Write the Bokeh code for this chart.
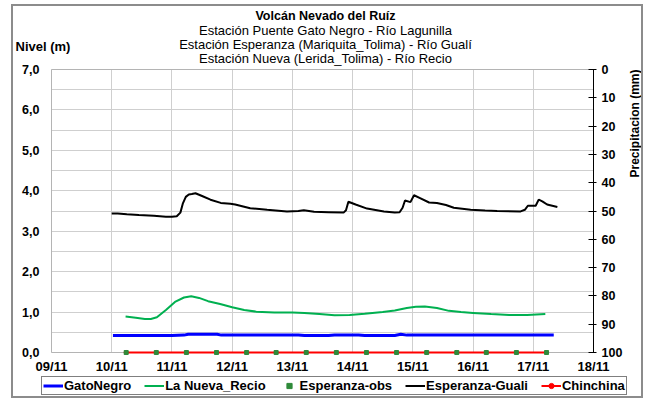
import math
from bokeh.plotting import figure
from bokeh.models import (Range1d, LinearAxis, FixedTicker, CustomJSTickFormatter,
                          Legend, LegendItem, Label, BoxAnnotation)
from bokeh.embed import file_html
from bokeh.resources import INLINE

# ---------------- data (day of November, level in m) ----------------
gato_day = [10.02, 10.50, 11.00, 11.20, 11.27, 11.50, 11.75, 11.82, 12.50, 13.10,
            13.20, 13.60, 13.70, 14.10, 14.20, 14.70, 14.80, 14.90, 15.50, 16.50, 17.34]
gato_lvl = [0.42, 0.42, 0.42, 0.43, 0.45, 0.45, 0.45, 0.43, 0.43, 0.43,
            0.42, 0.42, 0.43, 0.43, 0.42, 0.42, 0.45, 0.43, 0.43, 0.43, 0.43]

nueva_day = [10.23, 10.40, 10.55, 10.65, 10.75, 10.90, 11.05, 11.20, 11.32, 11.45,
             11.60, 11.80, 12.00, 12.20, 12.40, 12.70, 13.00, 13.20, 13.45, 13.70,
             13.95, 14.20, 14.50, 14.70, 14.90, 15.05, 15.20, 15.40, 15.60, 15.80,
             16.00, 16.30, 16.60, 16.90, 17.20]
nueva_lvl = [0.89, 0.86, 0.83, 0.83, 0.87, 1.05, 1.25, 1.36, 1.39, 1.35,
             1.27, 1.20, 1.12, 1.05, 1.01, 0.99, 0.99, 0.98, 0.95, 0.92,
             0.93, 0.96, 1.00, 1.04, 1.10, 1.13, 1.14, 1.10, 1.03, 1.00,
             0.98, 0.95, 0.93, 0.93, 0.95]

guali_day = [10.00, 10.10, 10.25, 10.45, 10.70, 10.90, 11.00, 11.08, 11.14, 11.18,
             11.23, 11.28, 11.33, 11.39, 11.50, 11.64, 11.81, 11.97, 12.05, 12.30,
             12.58, 12.91, 13.10, 13.19, 13.36, 13.60, 13.85, 13.89, 13.93, 14.05,
             14.24, 14.52, 14.70, 14.78, 14.83, 14.87, 14.96, 15.02, 15.12, 15.27,
             15.40, 15.55, 15.68, 15.96, 16.20, 16.40, 16.79, 16.86, 16.91, 17.04,
             17.09, 17.15, 17.23, 17.40]
guali_lvl = [3.44, 3.44, 3.42, 3.40, 3.38, 3.36, 3.36, 3.37, 3.46, 3.68,
             3.85, 3.91, 3.92, 3.94, 3.87, 3.78, 3.70, 3.68, 3.66, 3.57,
             3.53, 3.49, 3.50, 3.52, 3.48, 3.47, 3.46, 3.52, 3.73, 3.66,
             3.56, 3.49, 3.46, 3.47, 3.58, 3.76, 3.72, 3.89, 3.82, 3.71,
             3.70, 3.65, 3.58, 3.53, 3.51, 3.50, 3.49, 3.53, 3.63, 3.63,
             3.78, 3.74, 3.66, 3.60]

obs_day = [10.24, 10.74, 11.24, 11.74, 12.24, 12.73, 13.23, 13.73, 14.23, 14.73,
           15.23, 15.73, 16.22, 16.72, 17.22]
obs_lvl = [0, 0, 0, 0, 0, 0, 0, 0, 0, 0, 0, 0, 0, 0, 0]

chin_day = [10.24, 10.74, 11.24, 11.74, 12.24, 12.73, 13.23, 13.73, 14.23, 14.73,
            15.23, 15.73, 16.22, 16.72, 17.22]
chin_lvl = [0, 0, 0, 0, 0, 0, 0, 0, 0, 0, 0, 0, 0, 0, 0]

x_ticks = [9, 10, 11, 12, 13, 14, 15, 16, 17, 18]
y_ticks = [0, 1, 2, 3, 4, 5, 6, 7]
y_grid = [0, 0.5, 1, 1.5, 2, 2.5, 3, 3.5, 4, 4.5, 5, 5.5, 6, 6.5, 7]
precip_ticks = [0, 10, 20, 30, 40, 50, 60, 70, 80, 90, 100]

title_main = "Volcán Nevado del Ruíz"
title_subs = ["Estación Puente Gato Negro - Río Lagunilla",
              "Estación Esperanza (Mariquita_Tolima) - Río Gualí",
              "Estación Nueva (Lerida_Tolima) - Río Recio"]
y_label = "Nivel (m)"
y2_label = "Precipitacion (mm)"

FONT = "Liberation Sans"

# plot area spans days 9..18 and levels 0..7; the ranges are widened so that
# titles, legend and axis labels sit inside the drawing frame
X0, X1 = 9, 18
Y0, Y1 = 0, 7
P0, P1 = 100, 0          # precipitation at Y0 and at Y1 (inverted axis)
px_per_day = 542 / (X1 - X0)
px_per_m = 283 / (Y1 - Y0)
xr = Range1d(X0 - 38 / px_per_day, X1 + 52 / px_per_day)
yr = Range1d(Y0 - 48 / px_per_m, Y1 + 63 / px_per_m)
mm_per_m = (P0 - P1) / (Y1 - Y0)

p = figure(width=632, height=394, x_range=xr, y_range=yr,
           output_backend="svg", toolbar_location=None, title=None, min_border=0)
p.styles = {"border": "2px solid #8c8c8c", "margin-left": "11px", "margin-top": "4px"}
p.background_fill_color = "white"
p.border_fill_color = "white"
p.outline_line_color = None

# grids
p.xgrid.ticker = FixedTicker(ticks=x_ticks)
p.ygrid.ticker = FixedTicker(ticks=y_grid)
p.xgrid.grid_line_color = "#cfcfcf"
p.ygrid.grid_line_color = "#cfcfcf"
for g, cb in ((p.xgrid[0], (Y0, Y1)), (p.ygrid[0], (X0, X1))):
    if "cross_bounds" in g.properties():
        g.cross_bounds = cb
# white masks outside the plot area (cover grid lines), then the plot-area border
for kw in (dict(right=X0), dict(left=X1), dict(top=Y0), dict(bottom=Y1)):
    p.add_layout(BoxAnnotation(fill_color="white", fill_alpha=1.0, line_color=None,
                               level="underlay", **kw))
p.add_layout(BoxAnnotation(left=X0, right=X1, bottom=Y0, top=Y1, fill_color=None,
                           line_color="#404040", line_width=1, level="underlay"))

# x axis
xa = p.xaxis[0]
xa.fixed_location = Y0
xa.bounds = (X0, X1)
xa.ticker = FixedTicker(ticks=x_ticks)
xa.formatter = CustomJSTickFormatter(code="return (tick < 10 ? '0' : '') + tick + '/11';")
xa.major_tick_out = 0
xa.major_tick_in = 0
xa.minor_tick_line_color = None
xa.axis_line_color = None
xa.major_label_standoff = 6
xa.major_label_text_font = FONT
xa.major_label_text_font_size = "13px"
xa.major_label_text_font_style = "bold"
xa.major_label_text_color = "black"

# left axis
ya = p.yaxis[0]
ya.fixed_location = X0
ya.bounds = (Y0, Y1)
ya.ticker = FixedTicker(ticks=y_ticks)
ya.formatter = CustomJSTickFormatter(code="return tick.toFixed(1).replace('.', ',');")
ya.major_tick_out = 0
ya.major_tick_in = 0
ya.minor_tick_line_color = None
ya.axis_line_color = None
ya.major_label_standoff = 12
ya.major_label_text_font = FONT
ya.major_label_text_font_size = "12.5px"
ya.major_label_text_font_style = "bold"
ya.major_label_text_color = "black"

# right axis (precipitation, inverted)
p.extra_y_ranges = {"precip": Range1d(P0 + (Y0 - yr.start) * mm_per_m,
                                      P1 - (yr.end - Y1) * mm_per_m)}
ax2 = LinearAxis(y_range_name="precip", ticker=FixedTicker(ticks=precip_ticks),
                 fixed_location=X1, bounds=(P1, P0))
ax2.major_tick_in = 5
ax2.major_tick_out = 3
ax2.minor_tick_line_color = None
ax2.axis_line_color = "black"
ax2.major_tick_line_color = "black"
ax2.major_label_standoff = 5
ax2.major_label_text_font = FONT
ax2.major_label_text_font_size = "12.5px"
ax2.major_label_text_font_style = "bold"
ax2.major_label_text_color = "black"
p.add_layout(ax2, "right")

# series
r_gato = p.line(gato_day, gato_lvl, line_color="#0000ff", line_width=3)
r_nueva = p.line(nueva_day, nueva_lvl, line_color="#00b050", line_width=2)
r_guali = p.line(guali_day, guali_lvl, line_color="black", line_width=2)
r_chin = p.line(chin_day, chin_lvl, line_color="#ff0000", line_width=2)
r_chin_m = p.scatter(chin_day, chin_lvl, marker="circle", size=4,
                     fill_color="#ff0000", line_color="#ff0000")
r_obs = p.scatter(obs_day, obs_lvl, marker="square", size=4,
                  fill_color="#2f8a3a", line_color="#2f8a3a")

legend = Legend(items=[
    LegendItem(label="GatoNegro", renderers=[r_gato]),
    LegendItem(label="La Nueva_Recio", renderers=[r_nueva]),
    LegendItem(label="Esperanza-obs", renderers=[r_obs]),
    LegendItem(label="Esperanza-Guali", renderers=[r_guali]),
    LegendItem(label="Chinchina", renderers=[r_chin, r_chin_m]),
], location=(28, 5), orientation="horizontal")
legend.label_text_font = FONT
legend.label_text_font_size = "13px"
legend.label_text_font_style = "bold"
legend.label_text_color = "black"
legend.glyph_width = 20
legend.glyph_height = 13
legend.label_height = 13
legend.label_standoff = 1
legend.spacing = 13
legend.padding = 1
legend.margin = 0
legend.border_line_color = "black"
legend.border_line_width = 1
legend.background_fill_color = "white"
legend.background_fill_alpha = 1.0
p.add_layout(legend)

# titles and axis captions
def txt(x, y, text, size, style="normal", align="center", angle=0.0):
    p.add_layout(Label(x=x, y=y, text=text, text_align=align, text_baseline="middle",
                       text_font=FONT, text_font_size=size, text_font_style=style,
                       text_color="black", angle=angle))

cx = X0 + 274 / px_per_day
txt(cx, Y1 + 54 / px_per_m, title_main, "12.5px", "bold")
txt(cx, Y1 + 39.5 / px_per_m, title_subs[0], "13px")
txt(cx, Y1 + 25.5 / px_per_m, title_subs[1], "13px")
txt(cx, Y1 + 11.5 / px_per_m, title_subs[2], "13px")
txt(X0 - 36 / px_per_day, Y1 + 23 / px_per_m, y_label, "13px", "bold", align="left")
txt(X1 + 41 / px_per_day, Y1 - 54 / px_per_m, y2_label, "12px", "bold", angle=math.pi / 2)

open("out.html", "w").write(file_html(p, INLINE))
